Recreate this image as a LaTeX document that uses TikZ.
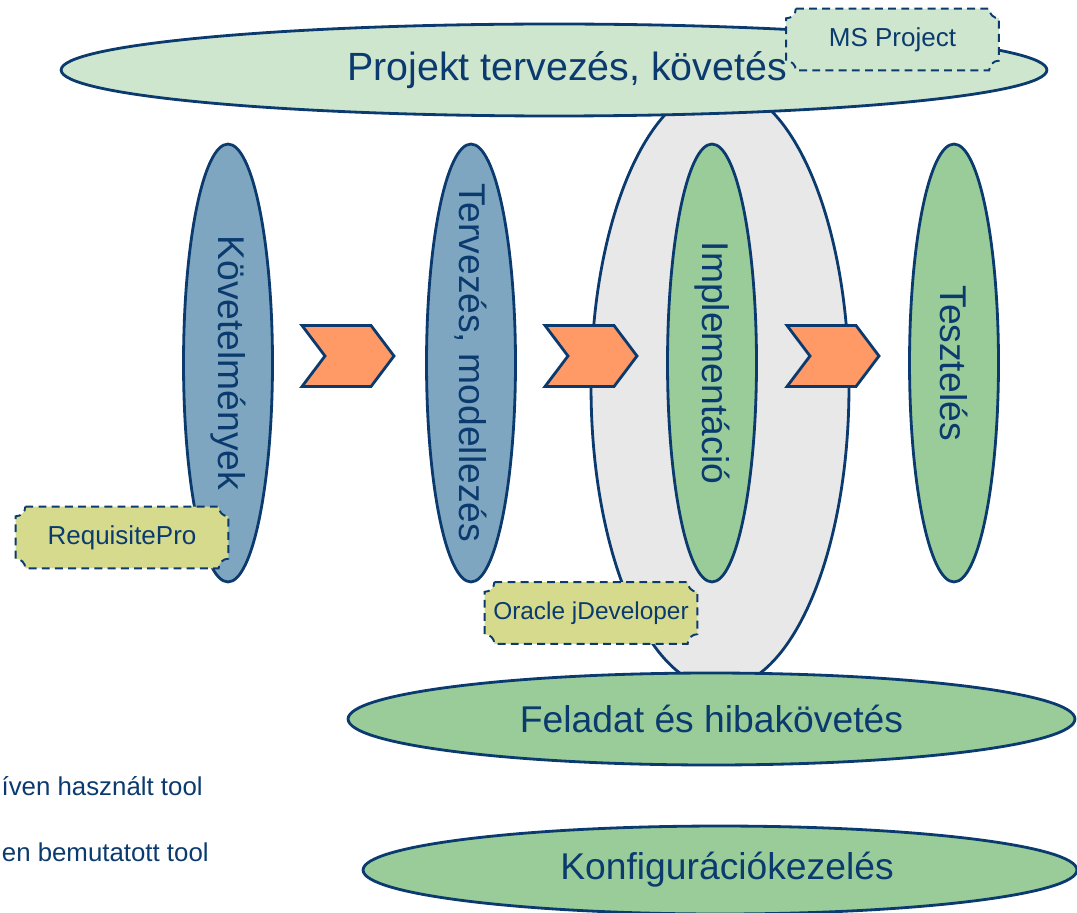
\documentclass[tikz,border=0pt]{standalone}
\usepackage{fontspec}
\setmainfont{Liberation Sans}
\usetikzlibrary{shapes.geometric, shapes.symbols, positioning}
\definecolor{navy}{HTML}{0B3B6E}
\definecolor{paleg}{HTML}{CFE6CE}
\definecolor{steel}{HTML}{7FA6C0}
\definecolor{leaf}{HTML}{99CC99}
\definecolor{shade}{HTML}{E8E8E8}
\definecolor{peach}{HTML}{FF9966}
\definecolor{khaki}{HTML}{D6DA8C}
\pgfdeclarelayer{front}
\pgfsetlayers{main,front}
\tikzstyle{phase} = [ellipse, draw=navy, line width=1.6pt, inner sep=0pt,
     minimum width=1.78cm, minimum height=8.76cm]
\tikzstyle{band} = [ellipse, draw=navy, line width=1.6pt, inner sep=0pt, text=navy,
     font=\fontsize{21.2}{24}\selectfont]
\tikzstyle{phasetext} = [text=navy, rotate=-90, inner sep=0pt,
     font=\fontsize{21.2}{24}\selectfont]
\tikzstyle{chevron} = [signal, signal from=west, signal to=east, signal pointer angle=106,
     draw=navy, fill=peach, line width=1.6pt, inner sep=0pt,
     minimum width=1.84cm, minimum height=1.22cm]
\tikzstyle{tool} = [inner sep=0pt, minimum width=4.24cm, minimum height=1.22cm, text=navy,
     font=\fontsize{14.8}{17}\selectfont]
\tikzstyle{toolline} = [draw=navy, line width=1.1pt, dash pattern=on 4.5pt off 3pt]
\tikzstyle{legend} = [inner sep=0pt, anchor=east, text=navy, font=\fontsize{14.7}{17}\selectfont]
\newcommand{\plaque}[2]{%
  \filldraw[toolline, fill=#2] ([xshift=5.5pt]#1.north west) -- ([xshift=-5.5pt]#1.north east)
    arc[start angle=180, end angle=270, radius=5.5pt] -- ([yshift=5.5pt]#1.south east)
    arc[start angle=90, end angle=180, radius=5.5pt] -- ([xshift=5.5pt]#1.south west)
    arc[start angle=0, end angle=90, radius=5.5pt] -- ([yshift=-5.5pt]#1.north west)
    arc[start angle=270, end angle=360, radius=5.5pt] -- cycle;}

\begin{document}
\begin{tikzpicture}[x=0.02cm, y=-0.02cm]
     \useasboundingbox (0,0) rectangle (1077,912);
     % Bands
     \node [ellipse, draw=navy, line width=1.6pt, fill=shade, inner sep=0pt,
          minimum width=5.16cm, minimum height=12.04cm] (implbg) at (720,387) {};
     \node [band, fill=paleg, minimum width=19.72cm, minimum height=1.84cm] (plan) at (554,70) {};
     \node [text=navy, font=\fontsize{22.4}{26}\selectfont, inner sep=0pt]
          (plan-t) at ([xshift=0.26cm]plan.center) {Projekt tervezés, követés};
     \node [band, fill=leaf, minimum width=14.54cm, minimum height=1.84cm] (task) at (711.5,719) {Feladat és hibakövetés};
     \node [band, fill=leaf, minimum width=14.28cm, minimum height=1.76cm] (conf) at (720,870) {};
     \node [text=navy, font=\fontsize{21.2}{24}\selectfont, inner sep=0pt]
          (conf-t) at ([xshift=0.14cm]conf.center) {Konfigurációkezelés};

     % Phases
     \node [phase, fill=steel] (req) at (228,363) {};
     \node [phase, fill=steel] (design) at (471,363) {};
     \node [phase, fill=leaf] (impl) at (712,363) {};
     \node [phase, fill=leaf] (test) at (954,363) {};
     \node [phasetext] (req-t) at (req) {Követelmények};
     \node [phasetext] (design-t) at (design) {Tervezés, modellezés};
     \node [phasetext] (impl-t) at (impl) {Implementáció};
     \node [phasetext] (test-t) at (test) {Tesztelés};

     % Chevrons
     \node [chevron] (c1) at (348,356) {};
     \node [chevron] (c2) at (591,356) {};
     \node [chevron] (c3) at (833,356) {};

     % Tools
     \begin{pgfonlayer}{front}
     \node [tool] (msp) at (892.5,39.5) {MS Project};
     \node [tool] (rp) at (122,537.5) {RequisitePro};
     \node [tool, font=\fontsize{13.9}{16}\selectfont] (jdev) at (591,613) {Oracle jDeveloper};
     \end{pgfonlayer}
     \plaque{msp}{paleg}
     \plaque{rp}{khaki}
     \plaque{jdev}{khaki}

     % Legend
     \node [legend] (leg1) at (203,786) {íven használt tool};
     \node [legend] (leg2) at (209,852) {en bemutatott tool};
\end{tikzpicture}
\end{document}
